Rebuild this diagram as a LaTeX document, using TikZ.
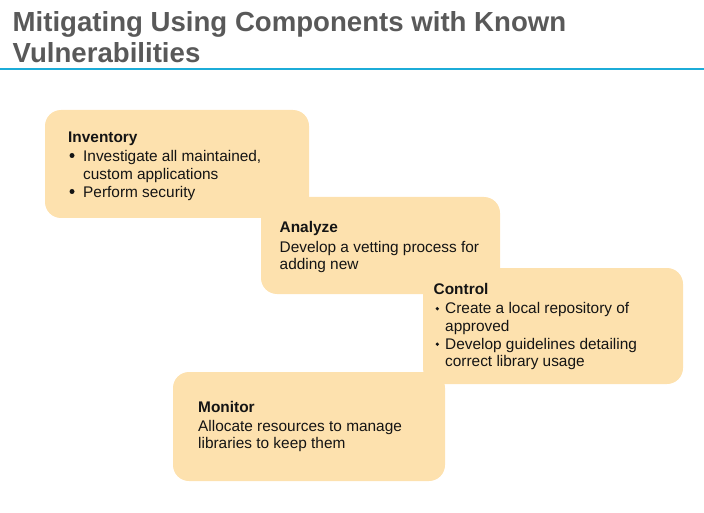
\documentclass[tikz,border=0pt]{standalone}
\usepackage{fontspec}
\setmainfont{Liberation Sans}
\definecolor{boxfill}{RGB}{253,225,174}
\definecolor{titlegray}{RGB}{89,89,89}
\definecolor{rulecyan}{RGB}{28,172,216}
\definecolor{bodyink}{RGB}{20,20,20}
\begin{document}
\begin{tikzpicture}[x=1pt,y=-1pt,
  stage/.style={fill=boxfill,rounded corners=16pt},
  heading/.style={anchor=base west,inner sep=0pt,text=titlegray,
    font=\fontsize{27.6}{31}\selectfont\bfseries},
  body/.style={anchor=base west,inner sep=0pt,text=bodyink,
    font=\fontsize{15.4}{17.5}\selectfont},
  bodyhead/.style={body,font=\fontsize{15.4}{17.5}\selectfont\bfseries},
  bigdot/.style={fill=bodyink},
  smalldot/.style={fill=bodyink}]
\useasboundingbox (0,0) rectangle (704,513);

% title and rule
\node[heading] (t1) at (12.5,31.5) {Mitigating Using Components with Known};
\node[heading] (t2) at (12.5,63) {Vulnerabilities};
\draw[rulecyan,line width=2pt] (0,69) -- (704,69);

% the four stage panels
\fill[stage] (45,110) rectangle (309,218);
\fill[stage] (261,197) rectangle (500,294);
\fill[stage] (423,268) rectangle (683,384);
\fill[stage] (173,372) rectangle (445,481);

% Inventory
\node[bodyhead] (invh) at (68,143) {Inventory};
\fill[bigdot] (72,155.5) circle (2.5);
\node[body] (inv1) at (83,161.5) {Investigate all maintained,};
\node[body] (inv2) at (83,179.5) {custom applications};
\fill[bigdot] (72,191.5) circle (2.5);
\node[body] (inv3) at (83,197.5) {Perform security};

% Analyze
\node[bodyhead] (anah) at (279.5,232.5) {Analyze};
\node[body] (ana1) at (279.5,252) {Develop a vetting process for};
\node[body] (ana2) at (279.5,269.5) {adding new};

% Control
\node[bodyhead] (ctlh) at (433.5,294.5) {Control};
\fill[smalldot] (437.3,308.7) circle (1.8);
\node[body] (ctl1) at (445,313.5) {Create a local repository of};
\node[body] (ctl2) at (445,331) {approved};
\fill[smalldot] (437.3,344.2) circle (1.8);
\node[body] (ctl3) at (445,349) {Develop guidelines detailing};
\node[body] (ctl4) at (445,366.5) {correct library usage};

% Monitor
\node[bodyhead] (monh) at (198,412.5) {Monitor};
\node[body] (mon1) at (198,431) {Allocate resources to manage};
\node[body] (mon2) at (198,448.5) {libraries to keep them};
\end{tikzpicture}
\end{document}
